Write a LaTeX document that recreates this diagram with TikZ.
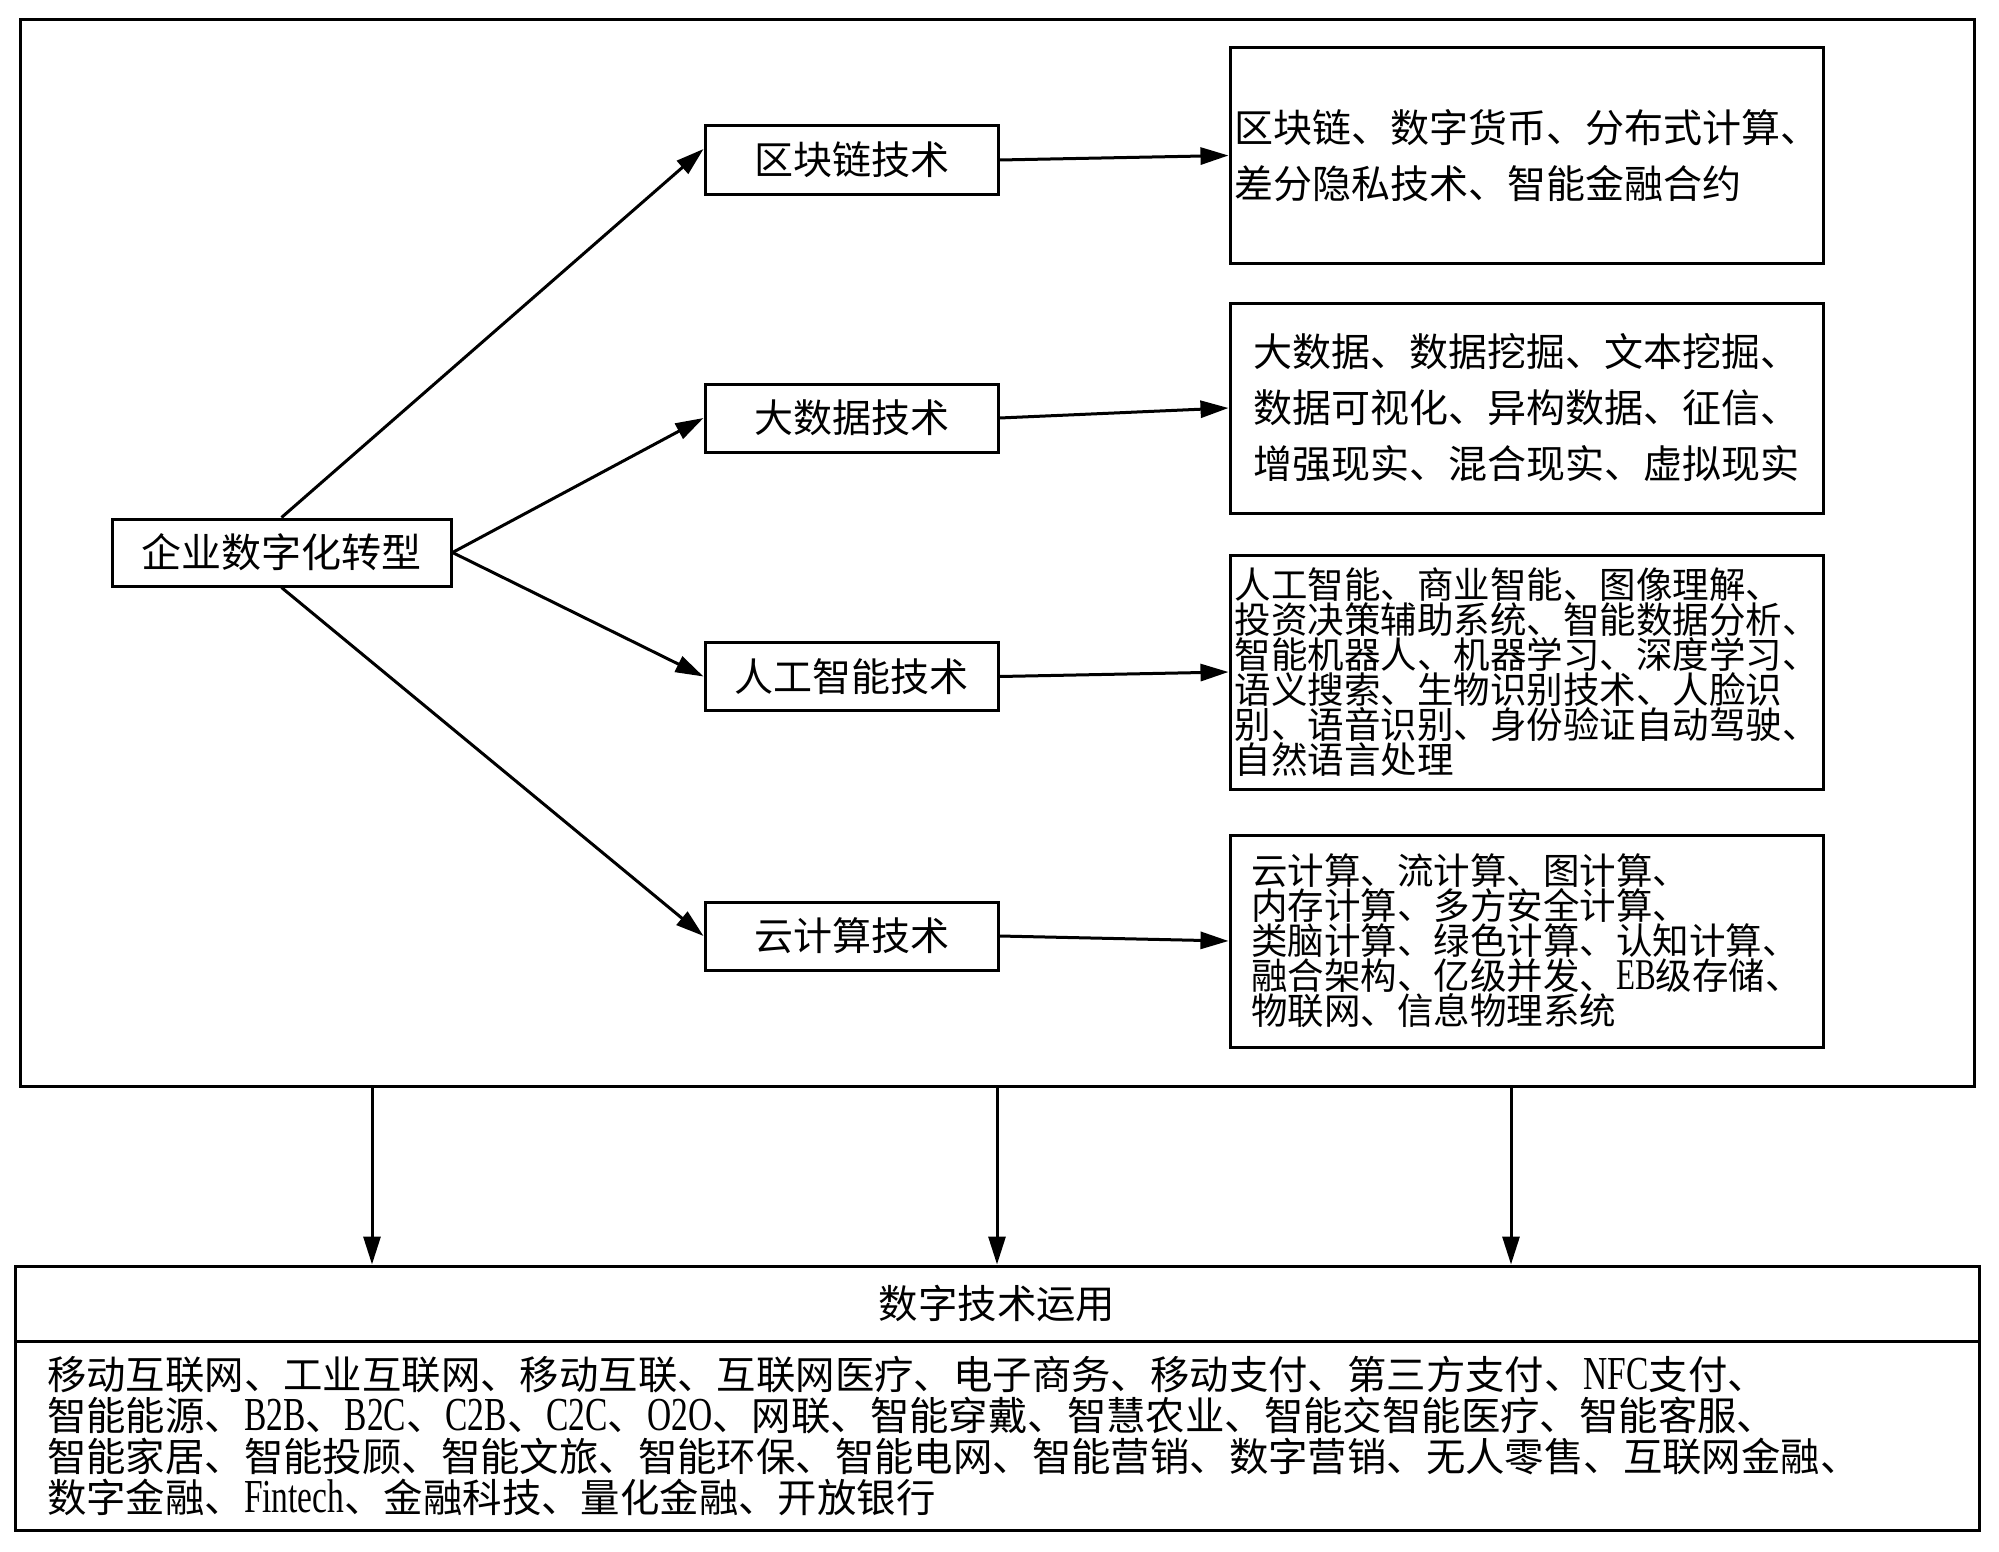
\documentclass[tikz,border=0pt]{standalone}
\usepackage{fontspec}
\usepackage{graphicx}
\setmainfont{Noto Sans CJK SC}
\newfontfamily\latfont{Liberation Serif}
\usetikzlibrary{arrows.meta}
\newcommand{\lat}[1]{\scalebox{0.85}[1.2]{\latfont #1}}
\begin{document}
\begin{tikzpicture}[x=1pt,y=-1pt,
  box/.style={draw,line width=3pt,rectangle,inner sep=0pt},
  midbox/.style={box,minimum width=293pt,minimum height=68pt,font=\fontsize{39}{44}\selectfont},
  rbox/.style={box,minimum width=593pt,align=left},
  bigfont/.style={font=\fontsize{39}{56}\selectfont},
  smallfont/.style={font=\fontsize{36.5}{33.5}\selectfont},
  arr/.style={line width=3pt,-{Triangle[length=28pt,width=17pt]}},
]
\useasboundingbox (0,0) rectangle (1999,1552);
% outer frame
\node[box,minimum width=1954pt,minimum height=1066pt] (outer) at (997,553) {};
% root
\node[box,minimum width=339pt,minimum height=67pt,font=\fontsize{40}{44}\selectfont] (qy) at (281.5,552.5) {企业数字化转型};
% middle boxes
\node[midbox] (qkl) at (851.5,160) {区块链技术};
\node[midbox] (dsj) at (851.5,418) {大数据技术};
\node[midbox] (rgzn) at (851.5,676.5) {人工智能技术};
\node[midbox] (yjs) at (851.5,936) {云计算技术};
% right boxes
\node[rbox,bigfont,minimum height=215pt] (r1) at (1526.5,155.5)
  {区块链、数字货币、分布式计算、\\差分隐私技术、智能金融合约};
\node[rbox,bigfont,minimum height=210pt] (r2) at (1526.5,408)
  {大数据、数据挖掘、文本挖掘、\\数据可视化、异构数据、征信、\\增强现实、混合现实、虚拟现实};
\node[rbox,smallfont,minimum height=234pt] (r3) at (1526.5,672)
  {人工智能、商业智能、图像理解、\\投资决策辅助系统、智能数据分析、\\智能机器人、机器学习、深度学习、\\语义搜索、生物识别技术、人脸识\\别、语音识别、身份验证自动驾驶、\\自然语言处理};
\node[rbox,smallfont,minimum height=212pt] (r4) at (1526.5,941)
  {云计算、流计算、图计算、\\内存计算、多方安全计算、\\类脑计算、绿色计算、认知计算、\\融合架构、亿级并发、\lat{EB}级存储、\\物联网、信息物理系统};
% bottom box
\node[box,minimum width=1964pt,minimum height=75pt,font=\fontsize{39.4}{44}\selectfont] (apphead) at (997,1303.5) {数字技术运用};
\node[box,minimum width=1964pt,minimum height=189pt,text width=1900pt,align=left,font=\fontsize{39.4}{41}\selectfont] (appbody) at (997,1435.5)
  {移动互联网、工业互联网、移动互联、互联网医疗、电子商务、移动支付、第三方支付、\lat{NFC}支付、\\
   智能能源、\lat{B2B}、\lat{B2C}、\lat{C2B}、\lat{C2C}、\lat{O2O}、网联、智能穿戴、智慧农业、智能交智能医疗、智能客服、\\
   智能家居、智能投顾、智能文旅、智能环保、智能电网、智能营销、数字营销、无人零售、互联网金融、\\
   数字金融、\lat{Fintech}、金融科技、量化金融、开放银行};
% connectors
\draw[arr] (qy.north) -- ([yshift=11pt]qkl.west);
\draw[arr] (qy.east) -- (dsj.west);
\draw[arr] (qy.east) -- (rgzn.west);
\draw[arr] (qy.south) -- (yjs.west);
\draw[arr] (qkl.east) -- (r1.west);
\draw[arr] (dsj.east) -- (r2.west);
\draw[arr] (rgzn.east) -- (r3.west);
\draw[arr] (yjs.east) -- (r4.west);
\coordinate (d1) at (372,0);
\coordinate (d2) at (997,0);
\coordinate (d3) at (1511,0);
\draw[arr] (d1 |- outer.south) -- (d1 |- apphead.north);
\draw[arr] (d2 |- outer.south) -- (d2 |- apphead.north);
\draw[arr] (d3 |- outer.south) -- (d3 |- apphead.north);
\end{tikzpicture}
\end{document}
